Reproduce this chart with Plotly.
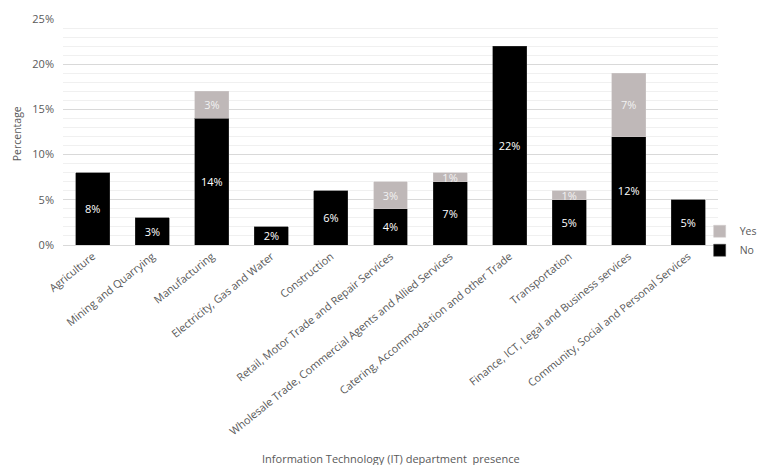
import plotly.graph_objects as go

categories = [
    "Agriculture",
    "Mining and Quarrying",
    "Manufacturing",
    "Electricity, Gas and Water",
    "Construction",
    "Retail, Motor Trade and Repair Services",
    "Wholesale Trade, Commercial Agents and Allied Services",
    "Catering, Accommoda-tion and other Trade",
    "Transportation",
    "Finance, ICT, Legal and Business services",
    "Community, Social and Personal Services",
]
no_values = [8, 3, 14, 2, 6, 4, 7, 22, 5, 12, 5]
yes_values = [None, None, 3, None, None, 3, 1, None, 1, 7, None]

y_tick_vals = [0, 5, 10, 15, 20, 25]
y_tick_text = ["0%", "5%", "10%", "15%", "20%", "25%"]

FONT = "Open Sans"
GRAY = "#595959"

fig = go.Figure()
fig.add_trace(go.Bar(
    x=categories, y=no_values, name="No", legendgroup="no",
    marker=dict(color="#000000", line=dict(color="#404040", width=0.5)),
    text=[f"{v}%" for v in no_values],
    textposition="inside", insidetextanchor="middle", textangle=0,
    textfont=dict(color="#ffffff", size=11, family=FONT),
))
fig.add_trace(go.Bar(
    x=categories, y=yes_values, name="Yes", legendgroup="yes",
    marker=dict(color="#bfb8b8", line=dict(color="#d0caca", width=0.5)),
    text=[f"{v}%" if v else "" for v in yes_values],
    textposition="inside", insidetextanchor="middle", textangle=0,
    textfont=dict(color="#f2f2f2", size=11, family=FONT),
))

fig.update_layout(
    barmode="stack",
    bargap=0.43,
    width=764, height=457,
    margin=dict(l=55, r=54, t=11, b=220, autoexpand=False),
    paper_bgcolor="white", plot_bgcolor="white",
    font=dict(family=FONT, color=GRAY, size=10),
    uniformtext=dict(minsize=11, mode="show"),
    showlegend=True,
    legend=dict(
        x=0.972, y=0.125, xanchor="left", yanchor="top",
        traceorder="reversed",
        font=dict(size=10.5, color=GRAY, family=FONT),
        itemwidth=30, tracegroupgap=2,
        bgcolor="rgba(0,0,0,0)",
    ),
    annotations=[
        dict(text="Information Technology (IT) department  presence",
             xref="paper", yref="paper", x=0.5, y=-0.9425,
             xanchor="center", yanchor="middle", showarrow=False,
             font=dict(size=11, color=GRAY, family=FONT)),
        dict(text="Percentage", textangle=-90,
             xref="paper", yref="paper", x=-0.0702, y=0.49,
             xanchor="center", yanchor="middle", showarrow=False,
             font=dict(size=10.5, color=GRAY, family=FONT)),
    ],
)
fig.update_xaxes(
    tickangle=-39,
    tickfont=dict(size=10.8, color=GRAY, family=FONT),
    showline=True, linecolor="#d9d9d9", linewidth=1,
    ticks="",
    automargin=False,
)
fig.update_yaxes(
    range=[0, 25],
    tickvals=y_tick_vals, ticktext=y_tick_text,
    tickfont=dict(size=11, color=GRAY, family=FONT),
    ticklabelstandoff=8,
    showgrid=True, gridcolor="#d9d9d9", gridwidth=1,
    minor=dict(dtick=1, showgrid=True, gridcolor="#f0f0f0", gridwidth=1),
    zeroline=False,
    automargin=False,
)

fig.write_html("out.html")
